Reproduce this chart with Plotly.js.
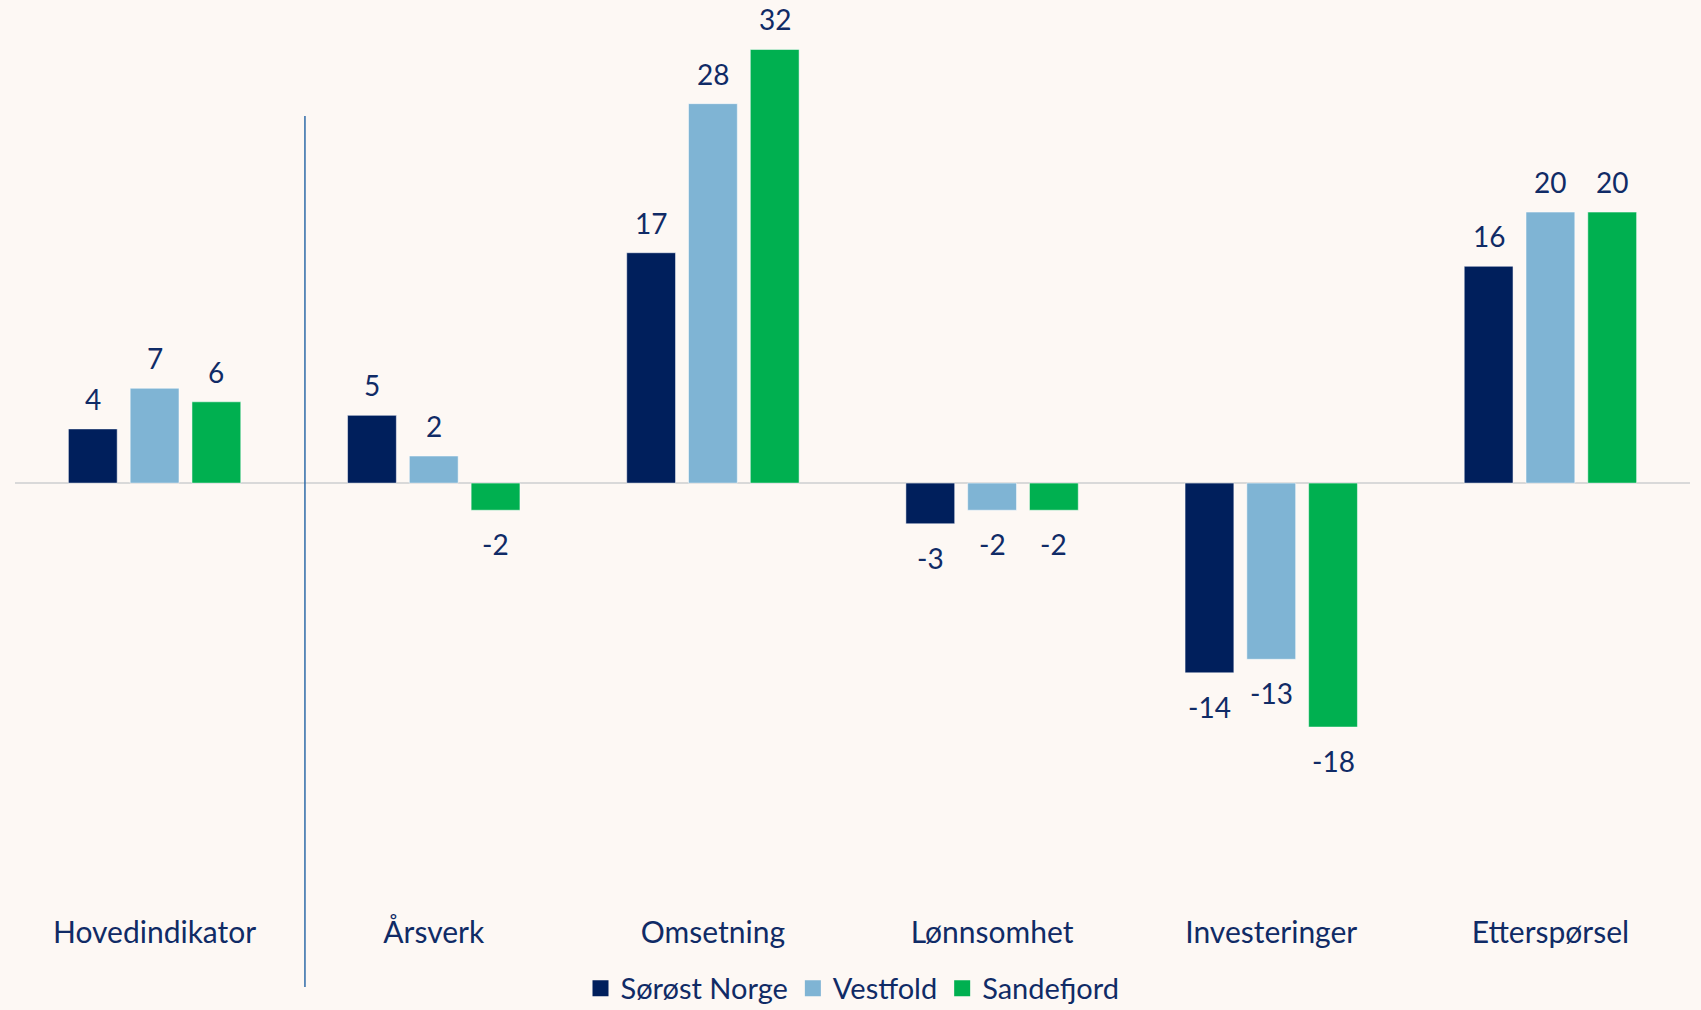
<!DOCTYPE html>
<html>
<head>
<meta charset="utf-8">
<script src="https://cdn.plot.ly/plotly-3.0.1.min.js"></script>
<style>
  html, body { margin: 0; padding: 0; background: #FDF8F4; }
  #chart { width: 1701px; height: 1010px; }
</style>
</head>
<body>
<div id="chart"></div>
<script>
const categories = ["Hovedindikator", "Årsverk", "Omsetning", "Lønnsomhet", "Investeringer", "Etterspørsel"];
const seriesNames = ["Sørøst Norge", "Vestfold", "Sandefjord"];
const sorostNorge = [4, 5, 17, -3, -14, 16];
const vestfold = [7, 2, 28, -2, -13, 20];
const sandefjord = [6, -2, 32, -2, -18, 20];

const seriesValues = [sorostNorge, vestfold, sandefjord];
const colors = ["#001F5C", "#7FB4D4", "#00B050"];
const textColor = "#102B66";
const font = "Lato, 'Open Sans', sans-serif";

const traces = seriesValues.map((vals, i) => ({
  type: "bar",
  name: seriesNames[i],
  x: categories,
  y: vals,
  showlegend: false,
  marker: { color: colors[i], line: { color: "rgba(255,255,255,0.5)", width: 1 } },
  hoverinfo: "skip"
}));

// legend-only entries with larger square symbols
seriesNames.forEach((name, i) => {
  traces.push({
    type: "scatter", mode: "markers", name: name,
    x: [null], y: [null],
    marker: { symbol: "square", size: 18, color: colors[i] },
    showlegend: true, hoverinfo: "skip"
  });
});

// data labels as annotations (offset per bar in group)
const pitchPx = 61.8;
const annotations = [];
seriesValues.forEach((vals, i) => {
  vals.forEach((v, j) => {
    annotations.push({
      x: categories[j], y: v, xref: "x", yref: "y",
      text: String(v), showarrow: false,
      xshift: (i - 1) * pitchPx,
      yshift: v >= 0 ? 30 : -34,
      yanchor: "middle", xanchor: "center",
      font: { family: font, size: 28, color: textColor }
    });
  });
});

const layout = {
  width: 1701, height: 1010,
  paper_bgcolor: "#FDF8F4",
  plot_bgcolor: "#FDF8F4",
  margin: { l: 15, r: 11, t: 0, b: 100, autoexpand: false },
  barmode: "group",
  bargap: 0.336,
  bargroupgap: 0.21,
  showlegend: true,
  legend: {
    orientation: "h", xref: "paper", x: 0.5, xanchor: "center",
    yref: "container", y: 0.0215, yanchor: "middle",
    font: { family: font, size: 29, color: textColor },
    itemclick: false, itemdoubleclick: false, traceorder: "normal",
    itemwidth: 30, tracegroupgap: 0
  },
  xaxis: {
    type: "category",
    showgrid: false, showline: false, zeroline: false,
    ticks: "", ticklabelstandoff: 2,
    tickfont: { family: font, size: 30, color: textColor },
    fixedrange: true
  },
  yaxis: {
    range: [-31.5, 35.65],
    showgrid: false, showticklabels: false, ticks: "",
    zeroline: true, zerolinecolor: "#D9D9D9", zerolinewidth: 2,
    showline: false, fixedrange: true
  },
  shapes: [{
    type: "line", xref: "paper", yref: "paper",
    x0: 0.1731, x1: 0.1731, y0: 0.8725, y1: -0.0846,
    line: { color: "#2E6BA8", width: 1.5 }
  }],
  annotations: annotations
};

Plotly.newPlot("chart", traces, layout, { displayModeBar: false, staticPlot: true });
</script>
</body>
</html>
